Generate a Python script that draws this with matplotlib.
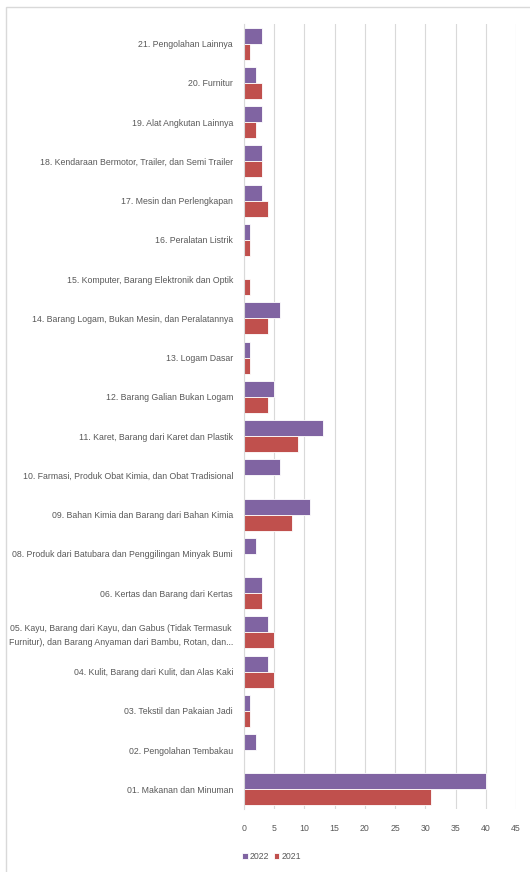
import matplotlib.pyplot as plt
import numpy as np
from matplotlib.patches import Rectangle

plt.rcParams['font.family'] = ['Liberation Sans', 'DejaVu Sans']

categories = [
    "21. Pengolahan Lainnya",
    "20. Furnitur",
    "19. Alat Angkutan Lainnya",
    "18. Kendaraan Bermotor, Trailer, dan Semi Trailer",
    "17. Mesin dan Perlengkapan",
    "16. Peralatan Listrik",
    "15. Komputer, Barang Elektronik dan Optik",
    "14. Barang Logam, Bukan Mesin, dan Peralatannya",
    "13. Logam Dasar",
    "12. Barang Galian Bukan Logam",
    "11. Karet, Barang dari Karet dan Plastik",
    "10. Farmasi, Produk Obat Kimia, dan Obat Tradisional",
    "09. Bahan Kimia dan Barang dari Bahan Kimia",
    "08. Produk dari Batubara dan Penggilingan Minyak Bumi",
    "06. Kertas dan Barang dari Kertas",
    "05. Kayu, Barang dari Kayu, dan Gabus (Tidak Termasuk\nFurnitur), dan Barang Anyaman dari Bambu, Rotan, dan...",
    "04. Kulit, Barang dari Kulit, dan Alas Kaki",
    "03. Tekstil dan Pakaian Jadi",
    "02. Pengolahan Tembakau",
    "01. Makanan dan Minuman",
]
v2022 = [3, 2, 3, 3, 3, 1, 0, 6, 1, 5, 13, 6, 11, 2, 3, 4, 4, 1, 2, 40]
v2021 = [1, 3, 2, 3, 4, 1, 1, 4, 1, 4, 9, 0, 8, 0, 3, 5, 5, 1, 0, 31]
xticks = [0, 5, 10, 15, 20, 25, 30, 35, 40, 45]

purple = "#8064A2"
red = "#C0504D"
txt = "#595959"

fig = plt.figure(figsize=(5.3, 8.72), dpi=100)
fig.patches.append(Rectangle((6 / 530, -0.01), 1.0, 1 - 7 / 872 + 0.01,
                             transform=fig.transFigure, fill=False,
                             edgecolor="#D9D9D9", linewidth=1))
ax = fig.add_axes([244 / 530, 63 / 872, 272 / 530, (872 - 24 - 63) / 872])

n = len(categories)
y = np.arange(n)[::-1]
h = 0.41
ax.barh(y + h / 2, v2022, height=h, color=purple, edgecolor="white", linewidth=0.6, label="2022")
ax.barh(y - h / 2, v2021, height=h, color=red, edgecolor="white", linewidth=0.6, label="2021")

ax.set_yticks(y)
ax.set_yticklabels(categories, multialignment="center", linespacing=1.6)
ax.set_ylim(-0.5, n - 0.5)
ax.set_xlim(0, 45)
ax.set_xticks(xticks)
ax.tick_params(axis="both", length=0, colors=txt, labelsize=6.3)
ax.tick_params(axis="x", pad=11)
ax.tick_params(axis="y", pad=8)
ax.grid(axis="x", color="#D9D9D9", linewidth=0.8)
ax.set_axisbelow(True)
for s in ["top", "right", "bottom"]:
    ax.spines[s].set_visible(False)
ax.spines["left"].set_color("#D9D9D9")

ax.legend(loc="upper left", bbox_to_anchor=(-0.035, -0.045), ncol=2, frameon=False,
          fontsize=6.3, labelcolor=txt, handlelength=0.6, handleheight=0.6,
          handletextpad=0.2, columnspacing=0.6)

fig.savefig("out.png", dpi=100)
